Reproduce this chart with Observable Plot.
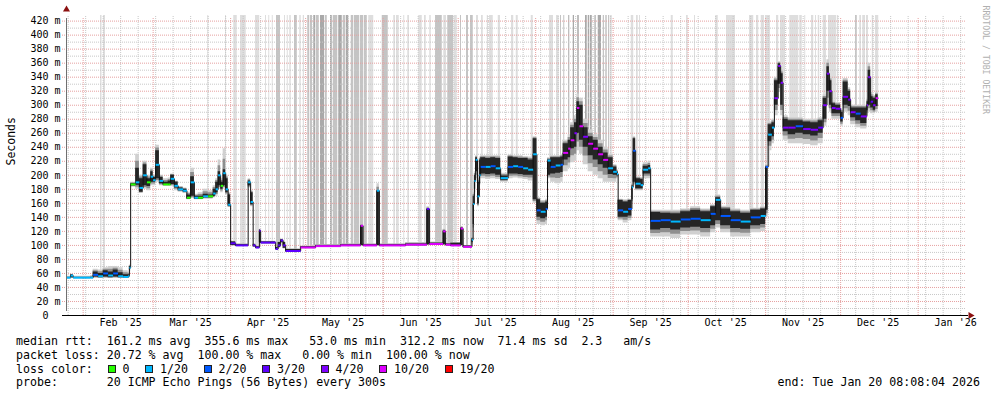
<!DOCTYPE html>
<html><head><meta charset="utf-8">
<script src="https://cdn.jsdelivr.net/npm/d3@7"></script>
<script src="https://cdn.jsdelivr.net/npm/@observablehq/plot@0.6"></script>
<style>
body{margin:0;background:#fff;}
#wrap{position:relative;width:997px;height:397px;font-family:"DejaVu Sans Mono",monospace;color:#000;overflow:hidden;}
.ln{position:absolute;left:16px;font-size:11.6px;line-height:13px;height:13px;white-space:pre;}
.box{position:absolute;width:8px;height:8px;box-sizing:border-box;border:1px solid #222;}
.lab{position:absolute;font-size:11.6px;line-height:13px;white-space:pre;}
#end{position:absolute;right:17px;font-size:11.6px;line-height:13px;white-space:pre;}
</style></head>
<body><div id="wrap"><div id="chart"></div></div>
<script>
// ---- time window ----
const windowStart = "2025-01-25T08:08:04Z";
const windowEnd = "2026-01-20T08:08:04Z";

// ---- median rtt series (ms); step series, last row ends the data ----
const sampleDates = [
 "2025-01-25T08:08:04Z","2025-01-27","2025-01-28",
 "2025-02-04","2025-02-05","2025-02-07","2025-02-09","2025-02-11","2025-02-13","2025-02-15","2025-02-17","2025-02-19","2025-02-19T12:00Z","2025-02-20","2025-02-22","2025-02-23T12:00Z","2025-02-25","2025-02-26T12:00Z","2025-02-28",
 "2025-03-01","2025-03-02","2025-03-03T12:00Z","2025-03-05","2025-03-07","2025-03-08","2025-03-09T12:00Z","2025-03-11","2025-03-13","2025-03-14T12:00Z","2025-03-16","2025-03-17T12:00Z","2025-03-19","2025-03-21","2025-03-23","2025-03-25","2025-03-26","2025-03-27","2025-03-28","2025-03-29","2025-03-30","2025-03-31",
 "2025-04-01","2025-04-03","2025-04-08","2025-04-09","2025-04-10","2025-04-11","2025-04-12T12:00Z","2025-04-13","2025-04-17","2025-04-19","2025-04-20","2025-04-21","2025-04-22","2025-04-23","2025-04-29",
 "2025-05-05","2025-05-15","2025-05-23","2025-05-24","2025-05-29T12:00Z","2025-05-30T12:00Z",
 "2025-06-10","2025-06-18T12:00Z","2025-06-19T12:00Z","2025-06-25","2025-06-26","2025-06-28",
 "2025-07-02","2025-07-03","2025-07-06T12:00Z","2025-07-07","2025-07-07T12:00Z","2025-07-08","2025-07-08T18:00Z","2025-07-09T12:00Z","2025-07-10","2025-07-12","2025-07-14","2025-07-16","2025-07-18","2025-07-21","2025-07-23","2025-07-25","2025-07-27","2025-07-29","2025-07-31",
 "2025-08-01T12:00Z","2025-08-03","2025-08-05","2025-08-05T18:00Z","2025-08-07","2025-08-09","2025-08-11","2025-08-12","2025-08-14","2025-08-15","2025-08-16T12:00Z","2025-08-17T12:00Z","2025-08-18T12:00Z","2025-08-20","2025-08-22","2025-08-24","2025-08-26","2025-08-28","2025-08-30",
 "2025-09-01","2025-09-02T12:00Z","2025-09-03","2025-09-05","2025-09-07","2025-09-08T12:00Z","2025-09-09","2025-09-10","2025-09-12","2025-09-13","2025-09-15","2025-09-16","2025-09-20","2025-09-24","2025-09-28",
 "2025-10-02","2025-10-06","2025-10-10","2025-10-12","2025-10-14","2025-10-18","2025-10-22","2025-10-26","2025-10-30",
 "2025-11-01","2025-11-02","2025-11-03T12:00Z","2025-11-04T12:00Z","2025-11-06","2025-11-07","2025-11-08","2025-11-10","2025-11-13","2025-11-16","2025-11-19","2025-11-22","2025-11-24","2025-11-25T12:00Z","2025-11-26T12:00Z","2025-11-27T12:00Z","2025-11-29",
 "2025-12-01","2025-12-02","2025-12-04","2025-12-05","2025-12-07","2025-12-09","2025-12-11T12:00Z","2025-12-12","2025-12-13","2025-12-14","2025-12-15","2025-12-16"
];
const medianMs = [
 54,57,54,
 54,58,56,60,57,60,56,55,56,68,187,190,182,200,190,198,
 193,215,192,187,187,195,185,180,178,168,190,168,168,170,170,174,180,200,185,203,180,158,
 103,100,190,162,100,97,121,104,104,95,100,107,100,92,97,
 99,100,128,100,178,100,
 101,152,102,120,101,100,
 124,98,108,159,192,222,170,200,212,212,213,210,196,212,213,212,210,208,230,
 150,148,152,221,212,214,215,232,238,250,260,296,270,255,245,238,230,222,210,
 205,202,150,148,152,183,235,188,186,208,210,135,136,134,137,
 138,136,145,165,142,136,134,140,142,
 212,258,268,310,356,332,268,268,270,266,265,268,300,345,320,296,295,
 282,312,308,290,288,284,300,340,305,300,310,310
];
const medianLowMs = [
 54,54,54,
 54,55,54,55,54,55,54,54,54,66,185,186,176,185,184,190,
 190,195,188,186,186,187,182,178,176,166,170,166,166,168,168,170,175,185,180,185,175,155,
 100,99,185,158,98,96,104,103,103,94,97,104,96,91,96,
 98,99,100,99,100,99,
 100,101,101,101,100,99,
 100,97,104,130,180,205,159,188,202,201,202,200,193,202,202,201,200,200,165,
 140,138,140,200,202,203,204,222,225,238,240,260,250,240,228,222,215,210,201,
 200,199,140,140,142,165,190,181,181,202,202,122,124,122,125,
 126,124,128,135,128,124,123,128,130,
 150,248,255,300,330,300,262,258,260,258,256,260,280,320,300,288,288,
 276,300,298,282,278,274,292,300,296,293,298,298
];
const medianHighMs = [
 54,58,54,
 54,62,60,64,62,65,61,58,58,70,188,210,195,215,195,205,
 197,235,197,190,192,200,190,182,180,172,198,170,170,173,172,180,190,205,190,208,195,172,
 105,101,192,175,101,98,122,105,105,97,104,108,104,94,98,
 100,101,128,101,178,101,
 102,152,103,121,102,103,
 125,99,110,170,200,225,190,222,225,224,225,224,199,226,225,224,224,222,252,
 165,160,162,222,225,225,226,245,250,268,275,305,300,268,255,250,240,232,225,
 212,205,164,162,164,185,252,195,194,213,214,147,146,145,148,
 150,148,155,168,152,148,146,150,152,
 212,272,275,335,359,345,280,278,278,276,275,278,310,355,335,302,300,
 290,333,320,296,296,296,305,350,312,310,315,315
];
const smokeLowMs = [
 53,53,53,
 53,53,53,53,53,53,53,53,53,60,183,180,174,180,178,185,
 185,190,185,184,184,184,178,176,174,165,167,165,165,166,166,168,170,180,175,180,172,155,
 99,99,182,155,97,95,103,102,102,93,96,103,95,90,95,
 97,98,99,98,99,98,
 99,100,100,100,99,98,
 99,96,100,120,170,195,155,185,195,194,195,194,190,195,196,195,194,192,160,
 130,128,130,195,190,188,190,205,210,218,220,235,230,215,205,200,195,190,190,
 190,195,135,132,135,160,185,178,178,195,195,112,112,110,115,
 115,112,118,125,118,112,112,118,120,
 140,235,245,285,318,285,250,245,245,244,242,245,270,300,290,280,280,
 270,290,285,272,268,266,285,290,288,288,290,290
];
const smokeHighMs = [
 56,59,56,
 57,66,65,68,70,70,68,64,62,72,190,230,200,220,200,210,
 200,243,200,195,196,202,192,184,182,176,210,173,175,180,178,185,195,222,195,238,200,175,
 106,102,195,178,102,99,123,106,106,98,105,109,105,95,99,
 101,102,130,102,188,102,
 104,155,105,123,103,104,
 127,100,112,175,205,228,195,226,228,228,228,228,203,229,228,228,227,226,255,
 168,164,166,225,228,228,230,250,258,275,285,316,310,280,265,258,250,240,230,
 215,208,166,165,166,188,255,198,197,218,220,150,150,150,152,
 155,152,158,172,156,152,150,153,155,
 215,276,280,340,362,350,285,282,282,280,280,282,315,365,340,306,304,
 295,338,325,300,300,300,310,360,318,314,318,318
];
const lossBin = [
 1,1,1,
 1,2,1,2,1,2,1,1,1,1,0,1,1,1,0,1,
 1,1,1,0,0,1,1,1,1,0,1,1,0,1,0,1,1,1,0,1,1,1,
 3,3,1,1,3,3,3,3,3,3,3,3,3,3,5,
 5,5,5,5,1,5,
 5,3,5,5,5,5,
 5,5,1,1,1,1,1,1,2,1,2,1,1,2,1,2,1,1,1,
 2,1,2,1,2,1,2,5,5,5,4,5,5,4,5,5,5,5,1,
 1,1,2,1,2,1,2,1,1,1,1,2,2,1,2,
 2,1,2,1,2,2,1,2,1,
 2,1,1,4,4,4,4,4,2,4,4,3,4,4,4,4,4,
 2,4,4,4,2,4,4,4,3,4,5,5
];

// ---- loss periods (days after window start) where lost pings push the smoke to the top ----
const lossBarStartDay = [
 13.6,14.8,56.5,63.6,66.9,69.6,75.6,79.6,80.9,82.3,
 84.0,87.2,88.3,89.3,91.2,93.3,94.7,96.5,97.6,98.9,
 100.0,101.6,103.5,105.6,106.7,108.9,110.7,111.9,113.9,115.2,
 117.6,119.2,120.9,126.3,130.9,132.0,134.9,136.5,140.9,143.2,
 145.3,147.6,150.9,152.5,155.2,157.6,160.0,161.6,164.0,166.0,
 168.3,169.2,172.7,178.0,179.9,185.9,193.2,196.0,197.6,198.9,
 200.9,202.7,204.5,207.6,208.7,209.6,211.3,212.7,214.7,215.7,
 216.8,217.6,225.9,228.0,229.2,241.9,248.0,251.2,259.7,264.0,
 273.2,276.0,277.9,279.6,284.0,285.6,289.3,293.3,295.3,298.0,
 299.6,300.7,302.7,304.8,308.3,315.6,317.3,318.5,320.0,322.3,
 323.6
];
const lossBarEndDay = [
 14.2,15.6,56.9,64.0,68.3,71.9,77.3,80.0,81.3,82.7,
 85.6,87.6,88.7,89.9,92.3,93.9,95.2,97.3,98.4,99.7,
 101.1,103.2,104.3,106.3,108.5,110.3,111.6,112.9,114.9,117.3,
 118.9,120.3,122.9,128.7,131.6,133.1,135.3,137.2,142.3,143.9,
 145.9,150.3,152.0,154.9,156.3,158.0,160.8,162.7,164.8,166.7,
 168.8,170.7,173.6,178.9,180.7,186.7,194.8,197.1,198.0,199.3,
 201.3,203.2,205.1,208.3,209.3,210.3,212.0,214.0,215.2,216.3,
 217.3,218.3,226.9,228.7,229.6,242.7,248.7,251.6,260.7,267.6,
 274.9,276.9,279.2,281.6,284.9,287.6,292.9,294.3,295.7,298.9,
 300.0,301.3,304.0,308.0,308.9,316.3,318.0,319.6,320.8,322.9,
 324.9
];
const lossBarShade = [
 1,1,1,1,1,1,1,1,1,1,
 2,1,1,1,2,1,1,2,2,3,
 2,3,2,3,2,3,2,3,2,2,
 2,2,1,2,1,1,1,1,1,1,
 1,2,1,2,1,2,2,2,1,1,
 1,1,1,1,1,1,1,1,2,2,
 3,3,3,3,3,3,2,3,2,2,
 2,1,1,1,1,1,1,1,1,1,
 1,1,1,1,1,1,1,1,1,1,
 1,1,1,1,1,2,1,1,1,1,
 1
];

// ---- axes / legend text ----
const yTicks = [0,20,40,60,80,100,120,140,160,180,200,220,240,260,280,300,320,340,360,380,400,420];
const yTickLabels = ["0","20 m","40 m","60 m","80 m","100 m","120 m","140 m","160 m","180 m","200 m","220 m","240 m","260 m","280 m","300 m","320 m","340 m","360 m","380 m","400 m","420 m"];
const yMinor = [10,30,50,70,90,110,130,150,170,190,210,230,250,270,290,310,330,350,370,390,410];
const monthStarts = ["2025-02-01","2025-03-01","2025-04-01","2025-05-01","2025-06-01","2025-07-01","2025-08-01","2025-09-01","2025-10-01","2025-11-01","2025-12-01","2026-01-01"];
const monthLabels = ["Feb '25","Mar '25","Apr '25","May '25","Jun '25","Jul '25","Aug '25","Sep '25","Oct '25","Nov '25","Dec '25","Jan '26"];
const lossColors = ["#26ff00","#00b8ff","#0059ff","#5e00ff","#7e00ff","#dd00ff","#ff0000"];
const lossLabels = ["0","1/20","2/20","3/20","4/20","10/20","19/20"];
const shadeColors = ["#ffffff","#dedede","#c4c4c4","#a9a9a9"];
const statsRtt = "median rtt:  161.2 ms avg  355.6 ms max   53.0 ms min  312.2 ms now  71.4 ms sd  2.3   am/s";
const statsLoss = "packet loss: 20.72 % avg  100.00 % max   0.00 % min  100.00 % now";
const lossTitle = "loss color:";
const probeText = "probe:       20 ICMP Echo Pings (56 Bytes) every 300s";
const endText = "end: Tue Jan 20 08:08:04 2026";
const yTitle = "Seconds";
const watermark = "RRDTOOL / TOBI OETIKER";
const yTop = 428;

// ---- build tables ----
const t0 = new Date(windowStart), t1 = new Date(windowEnd);
const DAY = 864e5;
const rows = sampleDates.map((d, i) => ({
  t: new Date(d), med: medianMs[i], lo: medianLowMs[i], hi: medianHighMs[i],
  slo: smokeLowMs[i], shi: smokeHighMs[i], loss: lossBin[i]
}));
const segs = rows.slice(0, -1).map((r, i) => ({...r, tn: rows[i + 1].t}));
const bis = d3.bisector(d => d.t).right;
const bars = lossBarStartDay.map((s, i) => {
  const a = new Date(+t0 + s * DAY), b = new Date(+t0 + lossBarEndDay[i] * DAY);
  const m = new Date((+a + +b) / 2);
  const k = Math.max(0, bis(rows, m) - 1);
  return {a, b, base: rows[k].med, shade: lossBarShade[i]};
});
const months = monthStarts.map(s => new Date(s));
const weeks = d3.utcSunday.range(t0, t1);
const mono = "DejaVu Sans Mono";

const chart = Plot.plot({
  width: 997, height: 330,
  marginLeft: 66, marginRight: 31, marginTop: 15, marginBottom: 15,
  x: {type: "utc", domain: [t0, t1], axis: null},
  y: {domain: [0, yTop], axis: null},
  style: {background: "#fff", overflow: "visible"},
  marks: [
    Plot.rect(bars, {x1: "a", x2: "b", y1: "base", y2: yTop, fill: d => shadeColors[d.shade]}),
    Plot.ruleX(weeks, {x: d => d, y1: 0, y2: yTop, stroke: "#c8c8c8", strokeDasharray: "1,1"}),
    Plot.ruleY(yMinor, {y: d => d, x1: t0, x2: t1, stroke: "#c8c8c8", strokeDasharray: "1,1"}),
    Plot.ruleX(months, {x: d => d, y1: 0, y2: yTop, stroke: "#e6a0a0", strokeDasharray: "1,1", insetBottom: -3}),
    Plot.ruleY(yTicks, {y: d => d, x1: t0, x2: t1, stroke: "#e6a0a0", strokeDasharray: "1,1", insetLeft: -4}),
    Plot.areaY(rows, {x: "t", y1: "slo", y2: "shi", curve: "step-after", fill: "#d0d0d0"}),
    Plot.areaY(rows, {x: "t", y1: d => (d.slo + d.lo) / 2, y2: d => (d.hi + d.shi) / 2, curve: "step-after", fill: "#8e8e8e"}),
    Plot.areaY(rows, {x: "t", y1: "lo", y2: "hi", curve: "step-after", fill: "#1c1c1c", fillOpacity: 0.92}),
    Plot.line(rows, {x: "t", y: "med", curve: "step-after", stroke: "#111", strokeWidth: 1}),
    Plot.link(segs, {x1: "t", x2: "tn", y1: "med", y2: "med", stroke: d => lossColors[d.loss], strokeWidth: 2}),
    // axes
    Plot.ruleX([t0], {x: d => d, y1: 0, y2: yTop, stroke: "#707070", insetBottom: -3, insetTop: -4}),
    Plot.ruleY([0], {y: d => d, x1: t0, x2: t1, stroke: "#000", insetLeft: -4, insetRight: -2}),
    Plot.dot([t1], {x: d => d, y: 0, symbol: "triangle", rotate: 90, r: 2.6, fill: "#8b1010", stroke: null, dx: 4}),
    Plot.dot([t0], {x: d => d, y: yTop, symbol: "triangle", r: 2.6, fill: "#8b1010", stroke: null, dy: -6}),
    Plot.text(yTicks, {y: d => d, frameAnchor: "left", dx: -6, textAnchor: "end",
      text: (d, i) => yTickLabels[i].endsWith(" m") ? yTickLabels[i] : yTickLabels[i] + "\u00a0\u00a0",
      fontSize: 10, fontFamily: mono, fill: "#000"}),
    Plot.text(months, {x: d => new Date(+d + 15 * DAY), frameAnchor: "bottom", dy: 10,
      text: (d, i) => monthLabels[i], fontSize: 10, fontFamily: mono, fill: "#000"}),
    Plot.text([yTitle], {frameAnchor: "left", rotate: -90, dx: -55, fontSize: 11.5, fontFamily: mono, fill: "#000"}),
    Plot.text([watermark], {frameAnchor: "top-right", rotate: 90, dx: 22, dy: -10, textAnchor: "start",
      fontSize: 8.2, fontFamily: mono, fill: "#b0b0b0"})
  ]
});
const wrap = document.getElementById("wrap");
document.getElementById("chart").appendChild(chart);

// ---- legend below the chart: one positioned line per row ----
const lineTop = [335, 348.5, 362.5, 376];
function addLine(text, top) {
  const el = document.createElement("div");
  el.className = "ln"; el.style.top = top + "px"; el.textContent = text;
  wrap.appendChild(el);
  return el;
}
addLine(statsRtt, lineTop[0]);
addLine(statsLoss, lineTop[1]);
addLine(lossTitle, lineTop[2]);
addLine(probeText, lineTop[3]);
// loss colour swatches: box, 7px gap, label, 15.5px gap (measured flow)
let cx = 107.5;
const charW = 7.0;
lossLabels.forEach((l, i) => {
  const b = document.createElement("div");
  b.className = "box"; b.style.left = cx + "px"; b.style.top = (lineTop[2] + 2.5) + "px";
  b.style.background = lossColors[i];
  wrap.appendChild(b);
  const t = document.createElement("div");
  t.className = "lab"; t.style.left = (cx + 15) + "px"; t.style.top = lineTop[2] + "px";
  t.textContent = l;
  wrap.appendChild(t);
  cx += 15 + l.length * charW + 15.5;
});
const endEl = document.createElement("div");
endEl.id = "end"; endEl.style.top = lineTop[3] + "px"; endEl.textContent = endText;
wrap.appendChild(endEl);
</script></body></html>
